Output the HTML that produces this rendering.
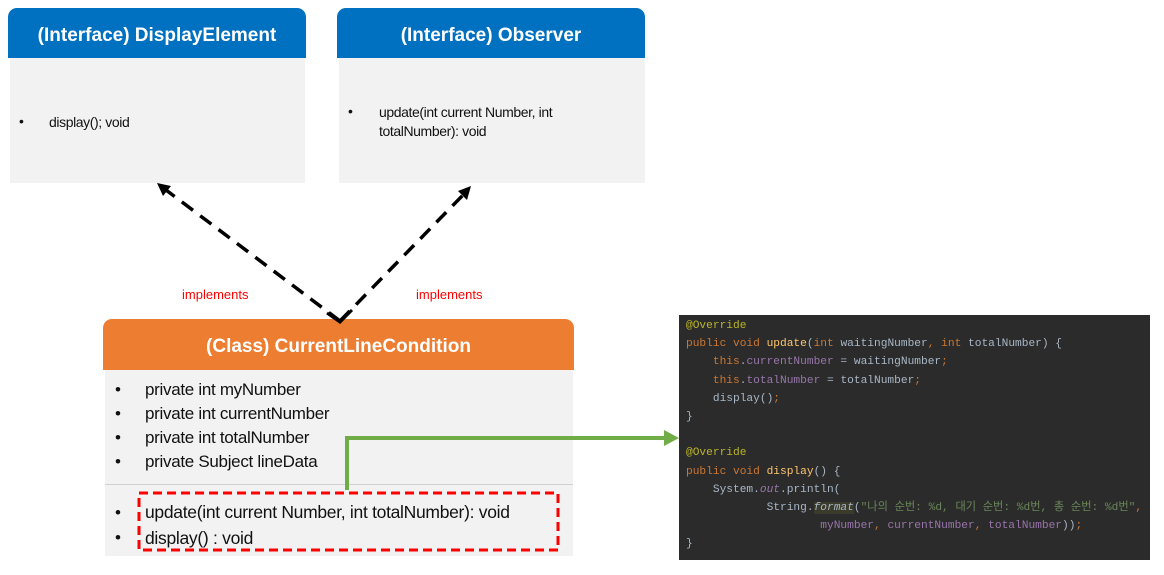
<!DOCTYPE html>
<html><head><meta charset="utf-8"><style>
body{margin:0;width:1164px;height:575px;background:#fff;position:relative;overflow:hidden;font-family:"Liberation Sans","Noto Sans CJK KR",sans-serif}
.hd{position:absolute;background:#0070c0;color:#fff;font-weight:bold;font-size:19px;text-align:center;border-radius:9px 9px 0 0;box-sizing:border-box}
.bd{position:absolute;background:#f2f2f2}
.t{position:absolute;color:#111;white-space:nowrap}
.code{position:absolute;left:679px;top:315px;width:471px;height:245px;background:#2b2b2b;font-family:"Liberation Mono","Noto Sans CJK KR",monospace;font-size:11.2px;line-height:18.2px;color:#a9b7c6;padding:2px 0 0 7px;box-sizing:border-box;white-space:pre}
.k{color:#cc7832}.a{color:#bbb529}.f{color:#ffc66d}.p{color:#9876aa}.s{color:#6a8759}
</style></head><body>
<div class="hd" style="left:8px;top:8px;width:298px;height:50px;line-height:56px">(Interface) DisplayElement</div>
<div class="bd" style="left:10px;top:58px;width:295px;height:125px"></div>
<div class="t" style="left:19px;top:113px;font-size:14px">•</div>
<div class="t" style="left:49px;top:114px;font-size:14px;letter-spacing:-0.4px">display(); void</div>
<div class="hd" style="left:337px;top:8px;width:308px;height:50px;line-height:56px">(Interface) Observer</div>
<div class="bd" style="left:339px;top:58px;width:306px;height:125px"></div>
<div class="t" style="left:348px;top:103px;font-size:14px">•</div>
<div class="t" style="left:379px;top:103px;font-size:14px;line-height:19px;letter-spacing:-0.4px">update(int current Number, int<br>totalNumber): void</div>
<div class="t" style="left:182px;top:287px;font-size:13px;color:#f00">implements</div>
<div class="t" style="left:416px;top:287px;font-size:13px;color:#f00">implements</div>
<div class="hd" style="left:103px;top:319px;width:471px;height:51px;line-height:56px;background:#ed7d31;font-size:19px">(Class) CurrentLineCondition</div>
<div class="bd" style="left:105px;top:370px;width:468px;height:186px"></div>
<div style="position:absolute;left:105px;top:484px;width:468px;height:1px;background:#d0d0d0"></div>
<div class="t" style="left:115px;top:378px;font-size:17px;line-height:24px;letter-spacing:-0.3px">•<br>•<br>•<br>•</div>
<div class="t" style="left:145px;top:378px;font-size:17px;line-height:24px;letter-spacing:-0.3px">private int myNumber<br>private int currentNumber<br>private int totalNumber<br>private Subject lineData</div>
<div class="t" style="left:115px;top:500px;font-size:17px;line-height:25px">•<br>•</div>
<div class="t" style="left:145px;top:499px;font-size:17.5px;line-height:26px;letter-spacing:-0.3px">update(int current Number, int totalNumber): void<br>display() : void</div>
<svg width="1164" height="575" style="position:absolute;left:0;top:0">
<rect x="139" y="493" width="419" height="57" fill="none" stroke="#f00" stroke-width="3" stroke-dasharray="9,5"/>
<g stroke="#000" stroke-width="3.5" fill="none" stroke-dasharray="14,9">
<line x1="340" y1="321" x2="166" y2="190"/>
<line x1="340" y1="321" x2="464" y2="194"/>
</g>
<path d="M327 313 L340 322 L352 310" stroke="#000" stroke-width="3" fill="none"/>
<polygon points="157,183 171,186 163,196" fill="#000"/>
<polygon points="471,186 467,200 458,191" fill="#000"/>
<polyline points="347,490 347,438 666,438" stroke="#70ad47" stroke-width="4" fill="none"/>
<polygon points="679,438 664,430 664,446" fill="#70ad47"/>
</svg>
<div class="code"><span class="a">@Override</span>
<span class="k">public void </span><span class="f">update</span>(<span class="k">int </span>waitingNumber<span class="k">, int </span>totalNumber) {
    <span class="k">this</span>.<span class="p">currentNumber</span> = waitingNumber<span class="k">;</span>
    <span class="k">this</span>.<span class="p">totalNumber</span> = totalNumber<span class="k">;</span>
    display()<span class="k">;</span>
}

<span class="a">@Override</span>
<span class="k">public void </span><span class="f">display</span>() {
    System.<span class="p"><i>out</i></span>.println(
            String.<i style="background:#3b3b2b">format</i>(<span class="s">"나의 순번: %d, 대기 순번: %d번, 총 순번: %d번"</span><span class="k">,</span>
                    <span class="p">myNumber</span><span class="k">, </span><span class="p">currentNumber</span><span class="k">, </span><span class="p">totalNumber</span>))<span class="k">;</span>
}</div>
</body></html>
